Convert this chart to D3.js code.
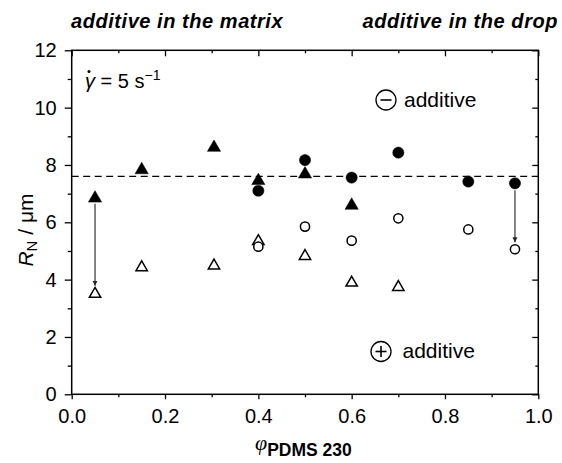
<!DOCTYPE html>
<html><head><meta charset="utf-8">
<script src="https://cdn.jsdelivr.net/npm/d3@7"></script>
<style>
html,body{margin:0;padding:0;background:#fff;}
text{font-family:"Liberation Sans",Arial,sans-serif;fill:#000;}
</style></head>
<body>
<svg id="c" width="562" height="463"></svg>
<script>
// ---- data ----
const filledTriX = [0.05, 0.15, 0.305, 0.40, 0.50, 0.60];
const filledTriY = [6.89, 7.88, 8.66, 7.50, 7.73, 6.64];
const filledCircX = [0.40, 0.50, 0.60, 0.70, 0.85, 0.95];
const filledCircY = [7.10, 8.17, 7.56, 8.43, 7.42, 7.36];
const openTriX = [0.05, 0.15, 0.305, 0.40, 0.50, 0.60, 0.70];
const openTriY = [3.54, 4.47, 4.53, 5.38, 4.86, 3.93, 3.78];
const openCircX = [0.40, 0.50, 0.60, 0.70, 0.85, 0.95];
const openCircY = [5.15, 5.85, 5.36, 6.14, 5.75, 5.06];
const refLine = 7.6;
const xTicks = [0, 0.2, 0.4, 0.6, 0.8, 1.0];
const xTickLabels = ["0.0", "0.2", "0.4", "0.6", "0.8", "1.0"];
const yTicks = [0, 2, 4, 6, 8, 10, 12];
// arrows: x, from y, to y
const arrowX = [0.05, 0.95];
const arrowFrom = [6.89, 7.36];
const arrowTo = [3.54, 5.06];

const svg = d3.select("#c");
const L = 71.7, R = 538.3, T = 50.3, B = 394.3;
const x = d3.scaleLinear().domain([0, 1]).range([L, R]);
const y = d3.scaleLinear().domain([0, 12]).range([B, T]);

const xMinor = d3.range(0.1, 1.0, 0.2);
const yMinor = d3.range(1, 12, 2);

function styleAxis(g){
  g.select(".domain").remove();
  g.selectAll(".tick line").attr("stroke", "#000").attr("stroke-width", 1.3);
}
// bottom axis (ticks outward)
svg.append("g").attr("transform", `translate(0,${B})`)
  .call(d3.axisBottom(x).tickValues(xTicks).tickSize(5).tickPadding(10)
        .tickFormat((d,i) => xTickLabels[i]))
  .call(styleAxis)
  .call(g => g.selectAll("text").attr("font-size", 20).attr("font-family", '"Liberation Sans",Arial,sans-serif'));
svg.append("g").attr("transform", `translate(0,${B})`)
  .call(d3.axisBottom(x).tickValues(xMinor).tickSize(3).tickFormat(""))
  .call(styleAxis);
// top axis (ticks inward)
svg.append("g").attr("transform", `translate(0,${T})`)
  .call(d3.axisTop(x).tickValues(xTicks).tickSize(-6).tickFormat(""))
  .call(styleAxis);
svg.append("g").attr("transform", `translate(0,${T})`)
  .call(d3.axisTop(x).tickValues(xMinor).tickSize(-3).tickFormat(""))
  .call(styleAxis);
// left axis (ticks outward)
svg.append("g").attr("transform", `translate(${L},0)`)
  .call(d3.axisLeft(y).tickValues(yTicks).tickSize(7).tickPadding(8).tickFormat(d3.format("d")))
  .call(styleAxis)
  .call(g => g.selectAll("text").attr("font-size", 20).attr("font-family", '"Liberation Sans",Arial,sans-serif'));
svg.append("g").attr("transform", `translate(${L},0)`)
  .call(d3.axisLeft(y).tickValues(yMinor).tickSize(4).tickFormat(""))
  .call(styleAxis);
// right axis (ticks inward)
svg.append("g").attr("transform", `translate(${R},0)`)
  .call(d3.axisRight(y).tickValues(yTicks).tickSize(-6).tickFormat(""))
  .call(styleAxis);
svg.append("g").attr("transform", `translate(${R},0)`)
  .call(d3.axisRight(y).tickValues(yMinor).tickSize(-3).tickFormat(""))
  .call(styleAxis);

// frame
svg.append("rect").attr("x", L).attr("y", T).attr("width", R - L).attr("height", B - T)
  .attr("fill", "none").attr("stroke", "#000").attr("stroke-width", 1.5);

// dashed reference line
svg.append("line").attr("x1", x(0)).attr("x2", x(1)).attr("y1", y(refLine)).attr("y2", y(refLine))
  .attr("stroke", "#000").attr("stroke-width", 1.3).attr("stroke-dasharray", "7,4.5");

// arrows
const defs = svg.append("defs");
defs.append("marker").attr("id", "ah").attr("viewBox", "0 0 10 10").attr("refX", 10).attr("refY", 5)
  .attr("markerWidth", 5).attr("markerHeight", 8).attr("markerUnits", "userSpaceOnUse").attr("orient", "auto")
  .append("path").attr("d", "M0,0 L10,5 L0,10 Z").attr("fill", "#222");
arrowX.forEach((ax, i) => {
  svg.append("line").attr("x1", x(ax)).attr("x2", x(ax))
    .attr("y1", y(arrowFrom[i]) + 7).attr("y2", y(arrowTo[i]) - 7)
    .attr("stroke", "#222").attr("stroke-width", 1.1).attr("marker-end", "url(#ah)");
});

const triFilled = d3.symbol().type(d3.symbolTriangle).size(76);
const triOpen = d3.symbol().type(d3.symbolTriangle).size(56);

// markers
function tri(xs, ys, filled){
  svg.append("g").selectAll("path").data(xs).join("path")
    .attr("d", filled ? triFilled : triOpen)
    .attr("transform", (d,i) => `translate(${x(d)},${y(ys[i]) + (filled ? 1.5 : 1.2)})`)
    .attr("fill", filled ? "#000" : "#fff")
    .attr("stroke", "#000").attr("stroke-width", filled ? 0.5 : 1.5)
    .attr("stroke-linejoin", "miter");
}
function circ(xs, ys, filled){
  svg.append("g").selectAll("circle").data(xs).join("circle")
    .attr("cx", d => x(d)).attr("cy", (d,i) => y(ys[i]))
    .attr("r", filled ? 5.6 : 4.6)
    .attr("fill", filled ? "#000" : "#fff")
    .attr("stroke", "#000").attr("stroke-width", filled ? 0.5 : 1.5);
}
tri(openTriX, openTriY, false);
circ(openCircX, openCircY, false);
tri(filledTriX, filledTriY, true);
circ(filledCircX, filledCircY, true);

// titles above plot
svg.append("text").attr("x", 71).attr("y", 28).attr("font-size", 20).attr("font-weight", "bold")
  .attr("font-style", "italic").attr("letter-spacing", 0.55).text("additive in the matrix");
svg.append("text").attr("x", 558).attr("y", 28).attr("font-size", 20).attr("font-weight", "bold")
  .attr("font-style", "italic").attr("letter-spacing", 0.55).attr("text-anchor", "end").text("additive in the drop");

// shear-rate annotation
const g1 = svg.append("text").attr("x", 85).attr("y", 88).attr("font-size", 20);
g1.append("tspan").attr("font-style", "italic").text("γ");
g1.append("tspan").text(" = 5 s");
g1.append("tspan").attr("dy", -8).attr("font-size", 14).text("−1");
svg.append("circle").attr("cx", 89).attr("cy", 71.5).attr("r", 1.5).attr("fill", "#000");

// ⊖ additive / ⊕ additive
function signLabel(cx, cy, plus){
  svg.append("circle").attr("cx", cx).attr("cy", cy).attr("r", 10)
    .attr("fill", "none").attr("stroke", "#000").attr("stroke-width", 1.3);
  svg.append("line").attr("x1", cx - 5.5).attr("x2", cx + 5.5).attr("y1", cy).attr("y2", cy)
    .attr("stroke", "#000").attr("stroke-width", 1.6);
  if (plus) svg.append("line").attr("x1", cx).attr("x2", cx).attr("y1", cy - 5.5).attr("y2", cy + 5.5)
    .attr("stroke", "#000").attr("stroke-width", 1.6);
}
signLabel(386, 100, false);
svg.append("text").attr("x", 404).attr("y", 107).attr("font-size", 21).text("additive");
signLabel(381, 351.5, true);
svg.append("text").attr("x", 402.5).attr("y", 358).attr("font-size", 21).text("additive");

// y axis title
const yl = svg.append("text").attr("transform", "translate(33,230) rotate(-90)")
  .attr("text-anchor", "middle").attr("font-size", 21);
yl.append("tspan").attr("font-style", "italic").text("R");
yl.append("tspan").attr("font-size", 15).attr("dy", 4).text("N");
yl.append("tspan").attr("dy", -4).text(" / μm");

// x axis title
const xl = svg.append("text").attr("x", 255).attr("y", 450);
xl.append("tspan").attr("font-family", '"Liberation Serif","Times New Roman",serif')
  .attr("font-style", "italic").attr("font-size", 22).text("φ");
xl.append("tspan").attr("font-weight", "bold").attr("font-size", 17.5).attr("dy", 6).text("PDMS 230");
</script>
</body></html>
